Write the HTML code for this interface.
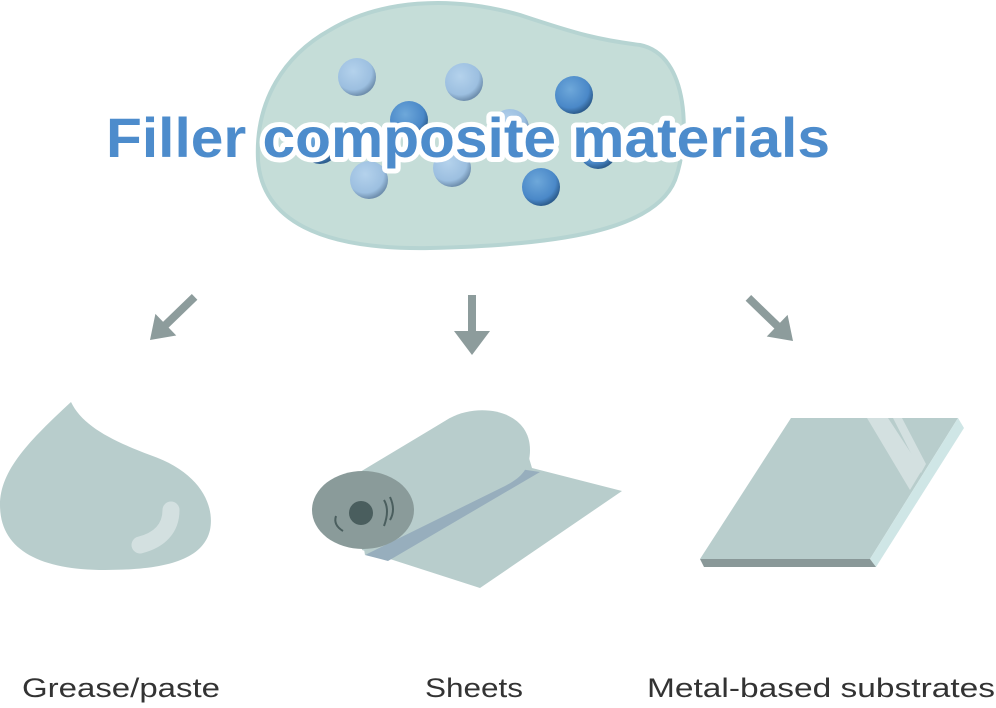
<!DOCTYPE html>
<html><head><meta charset="utf-8"><style>
html,body{margin:0;padding:0;background:#fff;}
svg{display:block;}
</style></head><body>
<svg width="996" height="708" viewBox="0 0 996 708" xmlns="http://www.w3.org/2000/svg">
<defs>
<radialGradient id="lb" cx="0.4" cy="0.35" r="0.65">
<stop offset="0" stop-color="#b4d2ec"/><stop offset="0.75" stop-color="#9cbfe0"/><stop offset="1" stop-color="#6f8fae"/>
</radialGradient>
<radialGradient id="db" cx="0.4" cy="0.35" r="0.65">
<stop offset="0" stop-color="#6ea8da"/><stop offset="0.75" stop-color="#4a88c8"/><stop offset="1" stop-color="#2d5d8e"/>
</radialGradient>
</defs>
<path d="M330,30 C380,0 450,-5 520,15 C580,35 600,40 640,45 C690,55 690,140 675,180 C655,230 560,245 430,248 C320,250 262,220 258,160 C255,100 285,55 330,30 Z" fill="#c5ddd8" stroke="#b6d4d2" stroke-width="4"/>
<g>
<circle cx="320" cy="145" r="19" fill="url(#db)"/>
<circle cx="598" cy="150" r="19" fill="url(#db)"/>
<circle cx="510" cy="128" r="19" fill="url(#lb)"/>
<circle cx="357" cy="77" r="19" fill="url(#lb)"/>
<circle cx="464" cy="82" r="19" fill="url(#lb)"/>
<circle cx="409" cy="120" r="19" fill="url(#db)"/>
<circle cx="574" cy="95" r="19" fill="url(#db)"/>
<circle cx="369" cy="180" r="19" fill="url(#lb)"/>
<circle cx="452" cy="168" r="19" fill="url(#lb)"/>
<circle cx="541" cy="187" r="19" fill="url(#db)"/>
</g>
<text x="106" y="157" font-family="Liberation Sans, sans-serif" font-weight="bold" font-size="56" textLength="724" lengthAdjust="spacingAndGlyphs" fill="#4d8ccc" stroke="#fff" stroke-width="10" stroke-linejoin="round" paint-order="stroke">Filler composite materials</text>
<g fill="#8d9c9c">
<rect x="468" y="295" width="8" height="37"/>
<polygon points="454,331 490,331 472,355"/>
<g transform="translate(150,340) rotate(-44)">
<rect x="16" y="-4" width="46" height="8"/><polygon points="0,0 22,-15 22,15"/>
</g>
<g transform="translate(793,341) rotate(44)">
<rect x="-62" y="-4" width="46" height="8"/><polygon points="0,0 -22,-15 -22,15"/>
</g>
</g>
<path d="M71,402 C82,425 110,440 150,455 C200,472 215,505 210,530 C203,560 165,570 105,570 C40,570 0,550 0,505 C0,470 30,440 71,402 Z" fill="#b8cdcc"/>
<path d="M171,510 C171,528 160,540 140,545" stroke="#d3e0e0" stroke-width="17" stroke-linecap="round" fill="none"/>
<polygon points="355,475 450,418 520,428 532,468 622,491 480,588 362,550" fill="#b8cdcc"/>
<polygon points="513,468 540,472 388,561 365,555" fill="#97aebd"/>
<path d="M352,478 L450,418 C480,402 530,410 530,450 C530,470 520,478 505,486 L365,555 Z" fill="#b8cdcc"/>
<ellipse cx="363" cy="510" rx="51" ry="39" fill="#8a9b9a"/>
<circle cx="361" cy="513" r="12" fill="#4a5e5e"/>
<path d="M384,500 Q390,510 384,526 M390,497 Q396,510 390,520" stroke="#4a5e5e" stroke-width="2" fill="none"/>
<path d="M336,516 Q333,525 343,531" stroke="#4a5e5e" stroke-width="2" fill="none"/>
<polygon points="791,418 958,418 870,559 700,559" fill="#b8cdcc"/>
<polygon points="867,418 888,418 922,470 910,490" fill="#d3e0e0"/>
<polygon points="893,418 902,418 926,464 921,473" fill="#d3e0e0"/>
<polygon points="958,418 964,428 876,567 870,559" fill="#cfe6e6"/>
<polygon points="700,559 870,559 876,567 704,567" fill="#899898"/>
<g font-family="Liberation Sans, sans-serif" font-size="27" fill="#333">
<text x="22" y="697" textLength="198" lengthAdjust="spacingAndGlyphs">Grease/paste</text>
<text x="425" y="697" textLength="98" lengthAdjust="spacingAndGlyphs">Sheets</text>
<text x="647" y="697" textLength="348" lengthAdjust="spacingAndGlyphs">Metal-based substrates</text>
</g>
</svg>
</body></html>
